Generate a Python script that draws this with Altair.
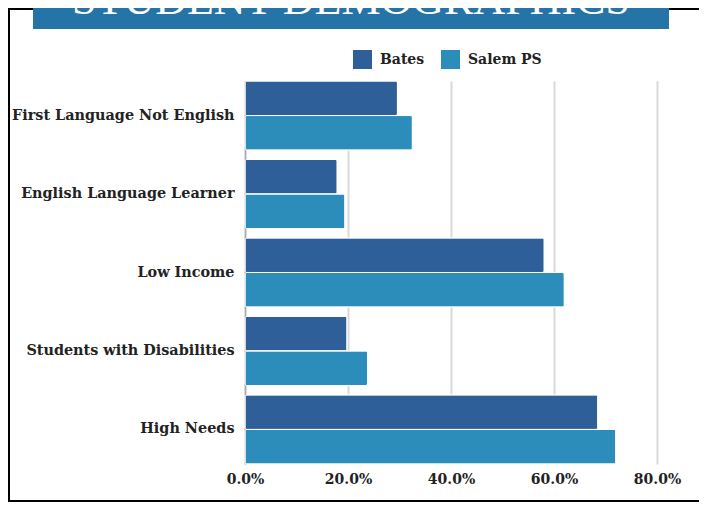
import altair as alt
import pandas as pd

categories = ["First Language Not English", "English Language Learner", "Low Income",
              "Students with Disabilities", "High Needs"]
series = ["Bates", "Salem PS"]
bates = [0.296, 0.179, 0.581, 0.198, 0.685]
salem = [0.325, 0.194, 0.620, 0.238, 0.720]
x_ticks = [0.0, 0.2, 0.4, 0.6, 0.8]
title_text = "STUDENT DEMOGRAPHICS"
colors = ["#2f5f98", "#2c8cba"]

rows = []
for c, b, s in zip(categories, bates, salem):
    rows.append({"category": c, "school": series[0], "value": b})
    rows.append({"category": c, "school": series[1], "value": s})
df = pd.DataFrame(rows)

FONT = "DejaVu Serif"
PLOT_W = 412
PLOT_H = 383

border = alt.Chart(pd.DataFrame({"k": [0]})).mark_rect(
    fillOpacity=0, stroke="black", strokeWidth=2
).encode(x=alt.value(-236), x2=alt.value(500), y=alt.value(-72), y2=alt.value(420))

box = alt.Chart(pd.DataFrame({"k": [0]})).mark_rect(color="#2474a7").encode(
    x=alt.value(-212), x2=alt.value(424), y=alt.value(-90), y2=alt.value(-52)
)

title = alt.Chart(pd.DataFrame({"t": [title_text]})).mark_text(
    font="Liberation Serif", fontSize=44, color="white", align="center", baseline="alphabetic"
).encode(text="t:N", x=alt.value(106), y=alt.value(-67))

bars = alt.Chart(df).mark_bar(cornerRadius=2, stroke="white", strokeWidth=1).encode(
    x=alt.X("value:Q", scale=alt.Scale(domain=[0, 0.8], nice=False),
            axis=alt.Axis(values=x_ticks, format=".1%", title=None, grid=True,
                          gridColor="#d9d9d9", gridWidth=2, domain=False, ticks=False,
                          labelFont=FONT, labelFontWeight="bold", labelFontSize=14,
                          labelColor="#222222", labelPadding=8, labelFlush=False)),
    y=alt.Y("category:N", sort=categories,
            scale=alt.Scale(paddingInner=0.12, paddingOuter=0),
            axis=alt.Axis(title=None, ticks=False, domainColor="#aaaaaa", domainWidth=1.5,
                          labelFont=FONT, labelFontWeight="bold", labelFontSize=14.4,
                          labelColor="#222222", labelPadding=11, labelLimit=300)),
    yOffset=alt.YOffset("school:N", sort=series),
    color=alt.Color("school:N", sort=series,
                    scale=alt.Scale(domain=series, range=colors),
                    legend=alt.Legend(orient="none", legendX=108, legendY=-31,
                                      direction="horizontal", title=None,
                                      symbolType="square", symbolSize=361,
                                      symbolStrokeWidth=0, labelFont=FONT,
                                      labelFontSize=14, labelFontWeight="bold",
                                      labelColor="#222222", columnPadding=16,
                                      labelOffset=8)),
)

chart = alt.layer(border, box, title, bars).properties(
    width=PLOT_W, height=PLOT_H,
    autosize=alt.AutoSizeParams(type="none"),
    padding={"left": 237, "top": 73, "right": 42, "bottom": 40},
).configure_view(stroke=None)

chart.save("out.html", embed_options={"renderer": "svg", "actions": False})
